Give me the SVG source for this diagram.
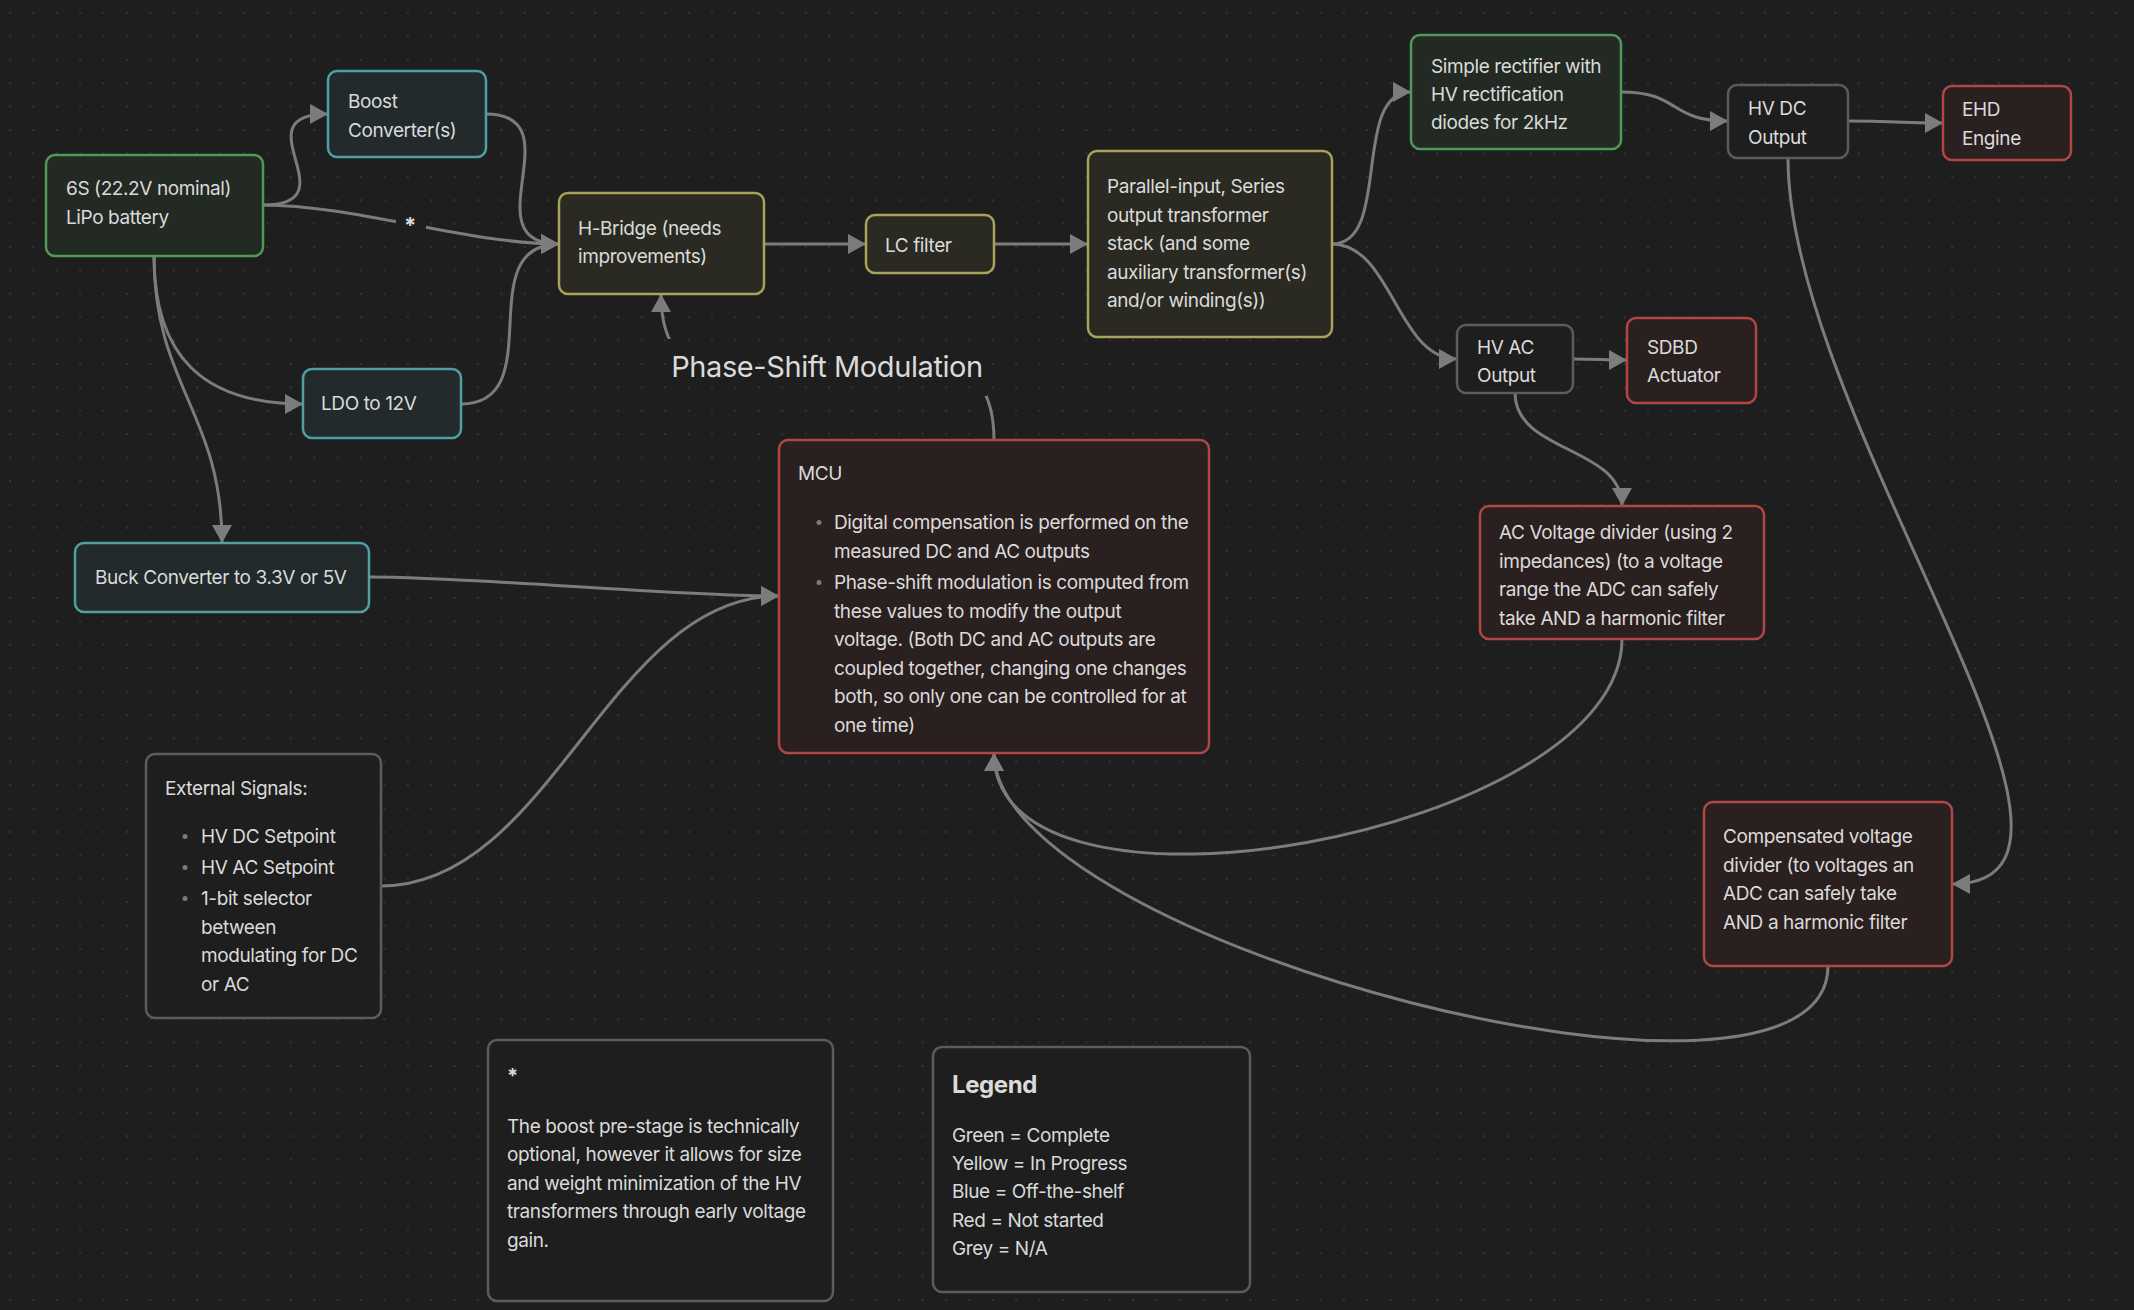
<svg xmlns="http://www.w3.org/2000/svg" width="2134" height="1310" viewBox="0 0 2134 1310">
<defs>
<pattern id="dots" x="9" y="12" width="23.4" height="23.4" patternUnits="userSpaceOnUse">
<circle cx="1" cy="1" r="1" fill="#3a3a3a"/>
</pattern>
<marker id="arr" markerUnits="userSpaceOnUse" markerWidth="18" markerHeight="20" refX="18" refY="10" orient="auto" viewBox="0 0 18 20">
<path d="M0,0 L18,10 L0,20 Z" fill="#7c7c7c"/>
</marker>
<mask id="lblmask" maskUnits="userSpaceOnUse" x="0" y="0" width="2134" height="1310">
<rect width="2134" height="1310" fill="#fff"/>
<rect x="396" y="208" width="30" height="27" fill="#000"/>
<rect x="666" y="339" width="321" height="57" fill="#000"/>
</mask>
<style>
text{font-family:Inter,"Noto Sans","Liberation Sans",sans-serif;font-size:19px;fill:#dadada;letter-spacing:-0.4px}
.n rect{stroke-width:2.5}
.green rect{fill:#232a24;stroke:#4e9a56}
.cyan rect{fill:#222a2b;stroke:#4fa0a6}
.yellow rect{fill:#2a2a22;stroke:#a7a35a}
.red rect{fill:#2b2020;stroke:#b04646}
.grey rect{fill:#1e1e1e;stroke:#5c5c5c}
.e path{fill:none;stroke:#7c7c7c;stroke-width:3;marker-end:url(#arr)}
.dot{fill:#7a7a7a}
.b{font-weight:700}
.lbl{text-anchor:middle}
</style>
</defs>
<rect width="2134" height="1310" fill="#1e1e1e"/>
<rect width="2134" height="1310" fill="url(#dots)"/>

<g id="connectors" class="e">
<g mask="url(#lblmask)">
<path d="M263,205 C353,205 238,114 328,114"/>
<path d="M263,205 C353,205 469,244 559,244"/>
<path d="M486,114 C576,114 469,244 559,244"/>
<path d="M461,404 C551,404 469,244 559,244"/>
<path d="M154,256 C154,356 203,404 303,404"/>
<path d="M154,256 C154,386 222,413 222,543"/>
<path d="M369,577 C479,577 669,596 779,596"/>
<path d="M381,886 C551,886 609,596 779,596"/>
<path d="M764,244 L866,244"/>
<path d="M994,244 L1088,244"/>
<path d="M1332,244 C1392,244 1351,92 1411,92"/>
<path d="M1332,244 C1392,244 1397,359 1457,359"/>
<path d="M1621,92 C1681,92 1668,121 1728,121"/>
<path d="M1848,121 C1898,121 1893,123 1943,123"/>
<path d="M1573,359 C1600,359 1600,360 1627,360"/>
<path d="M1515,393 C1515,453 1622,446 1622,506"/>
<path d="M1788,158 C1788,420 2150,884 1952,884"/>
<path d="M1622,639 C1622,834 994,948 994,753"/>
<path d="M1828,966 C1828,1157 994,944 994,753"/>
<path d="M994,440 C994,240 661,494 661,294"/>
</g>
<text class="lbl b" x="410" y="233" style="font-size:22px">*</text>
<text class="lbl" x="827" y="377" style="font-size:29px">Phase-Shift Modulation</text>
</g>

<g id="battery" class="n green">
<rect x="46" y="155" width="217" height="101" rx="9"/>
<text x="66" y="195">6S (22.2V nominal)</text>
<text x="66" y="224">LiPo battery</text>
</g>
<g id="boost" class="n cyan">
<rect x="328" y="71" width="158" height="86" rx="9"/>
<text x="348" y="108">Boost</text>
<text x="348" y="137">Converter(s)</text>
</g>
<g id="hbridge" class="n yellow">
<rect x="559" y="193" width="205" height="101" rx="9"/>
<text x="578" y="235">H-Bridge (needs</text>
<text x="578" y="263">improvements)</text>
</g>
<g id="ldo" class="n cyan">
<rect x="303" y="369" width="158" height="69" rx="9"/>
<text x="321" y="410">LDO to 12V</text>
</g>
<g id="buck" class="n cyan">
<rect x="75" y="543" width="294" height="69" rx="9"/>
<text x="95" y="584">Buck Converter to 3.3V or 5V</text>
</g>
<g id="lcfilter" class="n yellow">
<rect x="866" y="215" width="128" height="58" rx="9"/>
<text x="885" y="252">LC filter</text>
</g>
<g id="transformer" class="n yellow">
<rect x="1088" y="151" width="244" height="186" rx="9"/>
<text x="1107" y="193">Parallel-input, Series</text>
<text x="1107" y="221.5">output transformer</text>
<text x="1107" y="250">stack (and some</text>
<text x="1107" y="278.5">auxiliary transformer(s)</text>
<text x="1107" y="307">and/or winding(s))</text>
</g>
<g id="rectifier" class="n green">
<rect x="1411" y="35" width="210" height="114" rx="9"/>
<text x="1431" y="72.5">Simple rectifier with</text>
<text x="1431" y="101">HV rectification</text>
<text x="1431" y="129">diodes for 2kHz</text>
</g>
<g id="hvdc" class="n grey">
<rect x="1728" y="85" width="120" height="73" rx="9"/>
<text x="1748" y="115">HV DC</text>
<text x="1748" y="143.5">Output</text>
</g>
<g id="ehd" class="n red">
<rect x="1943" y="86" width="128" height="74" rx="9"/>
<text x="1962" y="116">EHD</text>
<text x="1962" y="145">Engine</text>
</g>
<g id="hvac" class="n grey">
<rect x="1457" y="325" width="116" height="68" rx="9"/>
<text x="1477" y="353.5">HV AC</text>
<text x="1477" y="381.5">Output</text>
</g>
<g id="sdbd" class="n red">
<rect x="1627" y="318" width="129" height="85" rx="9"/>
<text x="1647" y="354">SDBD</text>
<text x="1647" y="382">Actuator</text>
</g>
<g id="acdivider" class="n red">
<rect x="1480" y="506" width="284" height="133" rx="9"/>
<text x="1499" y="539">AC Voltage divider (using 2</text>
<text x="1499" y="567.5">impedances) (to a voltage</text>
<text x="1499" y="596">range the ADC can safely</text>
<text x="1499" y="624.5">take AND a harmonic filter</text>
</g>
<g id="compdivider" class="n red">
<rect x="1704" y="802" width="248" height="164" rx="9"/>
<text x="1723" y="843">Compensated voltage</text>
<text x="1723" y="871.5">divider (to voltages an</text>
<text x="1723" y="900">ADC can safely take</text>
<text x="1723" y="928.5">AND a harmonic filter</text>
</g>
<g id="mcu" class="n red">
<rect x="779" y="440" width="430" height="313" rx="9"/>
<text x="798" y="480">MCU</text>
<circle class="dot" cx="819" cy="522.5" r="2.5"/>
<text x="834" y="529">Digital compensation is performed on the</text>
<text x="834" y="558">measured DC and AC outputs</text>
<circle class="dot" cx="819" cy="582.5" r="2.5"/>
<text x="834" y="589">Phase-shift modulation is computed from</text>
<text x="834" y="617.5">these values to modify the output</text>
<text x="834" y="646">voltage. (Both DC and AC outputs are</text>
<text x="834" y="674.5">coupled together, changing one changes</text>
<text x="834" y="703">both, so only one can be controlled for at</text>
<text x="834" y="731.5">one time)</text>
</g>
<g id="external" class="n grey">
<rect x="146" y="754" width="235" height="264" rx="9"/>
<text x="165" y="794.5">External Signals:</text>
<circle class="dot" cx="185" cy="836.5" r="2.5"/>
<text x="201" y="843">HV DC Setpoint</text>
<circle class="dot" cx="185" cy="867.5" r="2.5"/>
<text x="201" y="874">HV AC Setpoint</text>
<circle class="dot" cx="185" cy="898.5" r="2.5"/>
<text x="201" y="905">1-bit selector</text>
<text x="201" y="933.5">between</text>
<text x="201" y="962">modulating for DC</text>
<text x="201" y="990.5">or AC</text>
</g>
<g id="footnote" class="n grey">
<rect x="488" y="1040" width="345" height="261" rx="9"/>
<text class="b" x="507" y="1083" style="font-size:20px">*</text>
<text x="507" y="1132.5">The boost pre-stage is technically</text>
<text x="507" y="1161">optional, however it allows for size</text>
<text x="507" y="1189.5">and weight minimization of the HV</text>
<text x="507" y="1218">transformers through early voltage</text>
<text x="507" y="1246.5">gain.</text>
</g>
<g id="legend" class="n grey">
<rect x="933" y="1047" width="317" height="245" rx="9"/>
<text class="b" x="952" y="1093" style="font-size:24px">Legend</text>
<text x="952" y="1142">Green = Complete</text>
<text x="952" y="1170">Yellow = In Progress</text>
<text x="952" y="1198">Blue = Off-the-shelf</text>
<text x="952" y="1226.5">Red = Not started</text>
<text x="952" y="1255">Grey = N/A</text>
</g>
</svg>
